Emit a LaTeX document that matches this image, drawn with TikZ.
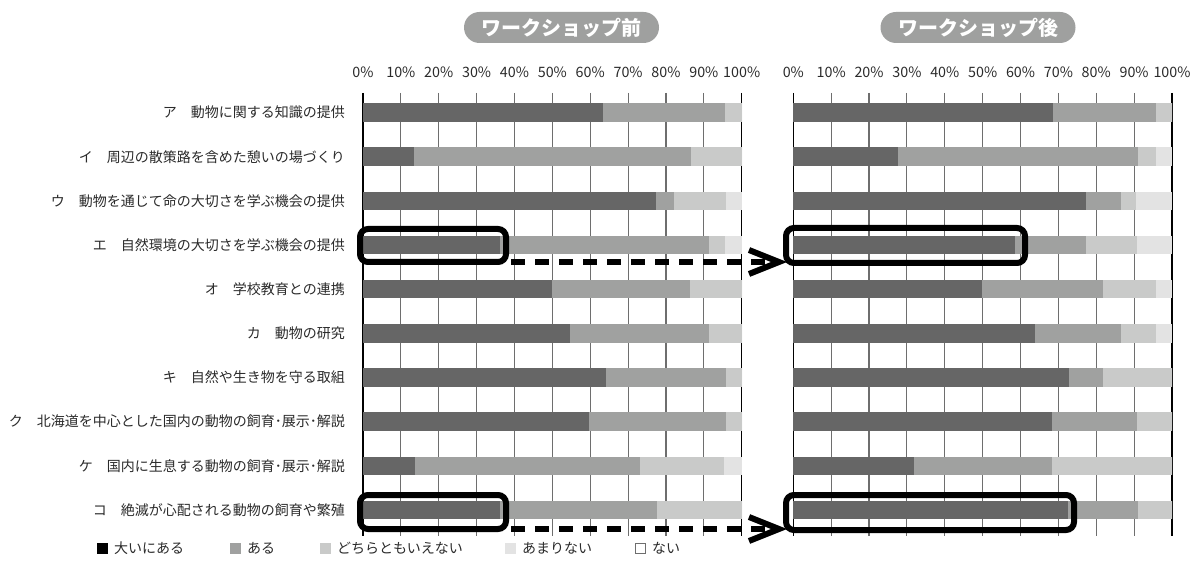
\documentclass[tikz,border=0pt]{standalone}
\usepackage{fontspec}
\setmainfont{Noto Sans CJK JP}
\usetikzlibrary{calc}
\definecolor{cA}{HTML}{666666}
\definecolor{cB}{HTML}{A0A1A0}
\definecolor{cC}{HTML}{C9CAC9}
\definecolor{cD}{HTML}{E3E3E3}
\definecolor{hdr}{HTML}{9FA09F}
\definecolor{txt}{HTML}{2B2B2B}
\definecolor{gridc}{HTML}{6E6E6E}
\begin{document}
\begin{tikzpicture}[x=1pt,y=-1pt,
  catlabel/.style={anchor=east,inner sep=0pt,text=txt,font=\fontsize{14}{16}\selectfont},
  axlabel/.style={inner sep=0pt,text=txt,font=\fontsize{14.3}{16}\selectfont},
  leglabel/.style={anchor=west,inner sep=0pt,text=txt,font=\fontsize{14}{16}\selectfont},
  hdrpill/.style={fill=hdr,rounded corners=15.5pt,minimum width=195pt,minimum height=31pt,
     inner sep=0pt,text=white,font=\fontsize{20}{22}\selectfont\bfseries},
  hlbox/.style={draw=black,line width=6pt,rounded corners=8pt,outer sep=0pt,inner sep=0pt},
  dashline/.style={draw=black,line width=6pt,dash pattern=on 14pt off 10pt},
  chevron/.style={draw=black,line width=6pt,line join=miter,miter limit=10},
  gridline/.style={draw=gridc,line width=1.1pt},
  axisline/.style={draw=black,line width=1.1pt}
]
\useasboundingbox (0,0) rectangle (1200,561);
\fill[white] (0,0) rectangle (1200,561);

% grid lines
\foreach \xo in {363,793.3}{
  \foreach \k in {1,...,9}{
    \draw[gridline] (\xo+37.87*\k,93) -- (\xo+37.87*\k,536);
  }
  \draw[axisline] (\xo,93) -- (\xo,536);
  \draw[axisline] (\xo+378.7,93) -- (\xo+378.7,536);
}

% axis labels
\foreach \k in {0,...,10}{
  \pgfmathtruncatemacro\pct{10*\k}
  \node[axlabel] (axL\k) at (363+37.87*\k,72) {\pct\%};
  \node[axlabel] (axR\k) at (793.3+37.87*\k,72) {\pct\%};
}

% bars: left chart
\foreach \r/\a/\b/\c in {0/63.4/95.6/100,1/13.5/86.6/100,2/77.4/82.1/95.9,3/36.3/91.4/95.6,
  4/49.9/86.4/100,5/54.7/91.4/100,6/64.2/95.9/100,7/59.7/95.9/100,8/13.7/73.2/95.3,9/36.3/77.6/100}{
  \pgfmathsetmacro\yc{112.5+44.17*\r}
  \fill[cA] (363,\yc-9.25) rectangle (363+3.787*\a,\yc+9.25);
  \fill[cB] (363+3.787*\a,\yc-9.25) rectangle (363+3.787*\b,\yc+9.25);
  \fill[cC] (363+3.787*\b,\yc-9.25) rectangle (363+3.787*\c,\yc+9.25);
  \fill[cD] (363+3.787*\c,\yc-9.25) rectangle (363+378.7,\yc+9.25);
}
% bars: right chart
\foreach \r/\a/\b/\c in {0/68.7/95.9/100,1/27.7/91.1/95.9,2/77.4/86.4/90.6,3/58.6/77.4/90.8,
  4/49.9/81.9/95.9,5/63.9/86.4/95.9,6/72.9/81.9/100,7/68.4/90.8/100,8/32.0/68.4/100,9/72.6/91.1/100}{
  \pgfmathsetmacro\yc{112.5+44.17*\r}
  \fill[cA] (793.3,\yc-9.25) rectangle (793.3+3.787*\a,\yc+9.25);
  \fill[cB] (793.3+3.787*\a,\yc-9.25) rectangle (793.3+3.787*\b,\yc+9.25);
  \fill[cC] (793.3+3.787*\b,\yc-9.25) rectangle (793.3+3.787*\c,\yc+9.25);
  \fill[cD] (793.3+3.787*\c,\yc-9.25) rectangle (793.3+378.7,\yc+9.25);
}

% category labels
\foreach \r/\t in {0/ア　動物に関する知識の提供,
  1/イ　周辺の散策路を含めた憩いの場づくり,
  2/ウ　動物を通じて命の大切さを学ぶ機会の提供,
  3/エ　自然環境の大切さを学ぶ機会の提供,
  4/オ　学校教育との連携,
  5/カ　動物の研究,
  6/キ　自然や生き物を守る取組,
  7/ク　北海道を中心とした国内の動物の飼育･展示･解説,
  8/ケ　国内に生息する動物の飼育･展示･解説,
  9/コ　絶滅が心配される動物の飼育や繁殖}{
  \pgfmathsetmacro\yc{112.5+44.17*\r}
  \node[catlabel] (cat\r) at (345,\yc) {\t};
}

% headers
\node[hdrpill] (hL) at (561.5,27.5) {ワークショップ前};
\node[hdrpill] (hR) at (978,27.5) {ワークショップ後};

% highlight boxes
\node[hlbox,minimum width=146pt,minimum height=33pt] (bLE) at (433,245.5) {};
\node[hlbox,minimum width=239pt,minimum height=35pt] (bRE) at (905.5,245.5) {};
\node[hlbox,minimum width=146pt,minimum height=34pt] (bLK) at (433,512) {};
\node[hlbox,minimum width=288pt,minimum height=35pt] (bRK) at (930,512.5) {};

% dashed arrows with chevron heads
\coordinate (tipE) at ([xshift=-7pt]bRE.west |- bLE.south east);
\coordinate (tipK) at ([xshift=-7pt]bRK.west |- bLK.south east);
\draw[dashline] ([xshift=5pt]bLE.south east) -- ([xshift=-6pt]tipE);
\draw[chevron] ($(tipE)+(-30,-12)$) -- (tipE) -- ($(tipE)+(-30,12)$);
\draw[dashline] ([xshift=5pt]bLK.south east) -- ([xshift=-6pt]tipK);
\draw[chevron] ($(tipK)+(-30,-12)$) -- (tipK) -- ($(tipK)+(-30,12)$);

% legend
\fill[black] (97,542.5) rectangle (108,553.5);
\node[leglabel] (lg1) at (114,548) {大いにある};
\fill[cB] (230,542.5) rectangle (241,553.5);
\node[leglabel] (lg2) at (247,548) {ある};
\fill[cC] (320,542.5) rectangle (331,553.5);
\node[leglabel] (lg3) at (337,548) {どちらともいえない};
\fill[cD] (505,542.5) rectangle (516,553.5);
\node[leglabel] (lg4) at (522,548) {あまりない};
\draw[gridc,line width=0.8pt] (635.4,543) rectangle (645.6,553);
\node[leglabel] (lg5) at (652,548) {ない};
\end{tikzpicture}
\end{document}
